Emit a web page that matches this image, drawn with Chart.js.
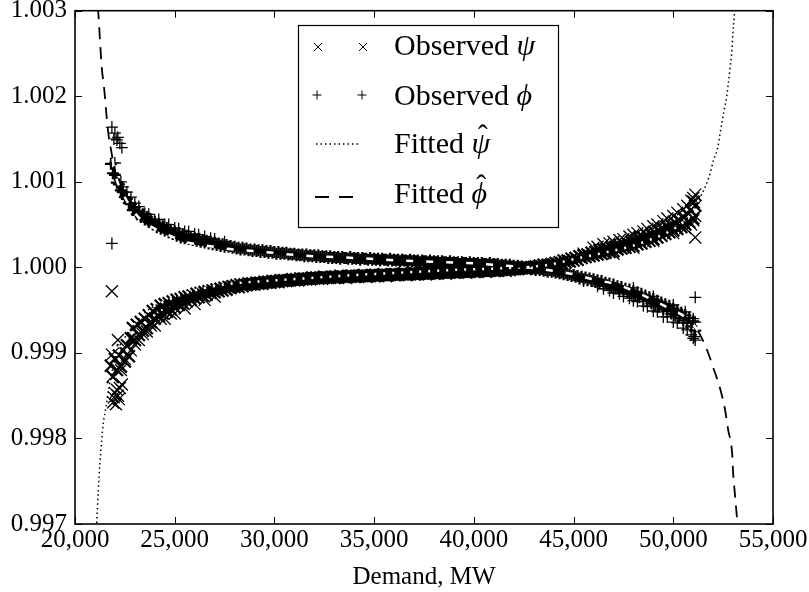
<!DOCTYPE html>
<html>
<head>
<meta charset="utf-8">
<script src="https://cdn.jsdelivr.net/npm/chart.js@4"></script>
<style>
  body { margin: 0; background: #fff; }
  #wrap { width: 809px; height: 592px; }
</style>
</head>
<body>
<div id="wrap"><canvas id="chart" width="809" height="592"></canvas></div>
<script>
const xTicks = [20000, 25000, 30000, 35000, 40000, 45000, 50000, 55000];
const yTicks = [0.997, 0.998, 0.999, 1.000, 1.001, 1.002, 1.003];

// demand levels shared by both observed series
const obsDemand = [
  21800, 21900, 22000, 22100, 22200, 22300, 22400, 22500, 22600, 22700,
  22800, 22900, 23000, 23100, 23200, 23300, 23400, 23500, 23600, 23700,
  23800, 23900, 24000, 24100, 24200, 24300, 24400, 24500, 24600, 24700,
  24800, 24900, 25000, 25100, 25200, 25300, 25400, 25500, 25600, 25700,
  25800, 25900, 26000, 26100, 26200, 26300, 26400, 26500, 26600, 26700,
  26800, 26900, 27000, 27100, 27200, 27300, 27400, 27500, 27600, 27700,
  27800, 27900, 28000, 28100, 28200, 28300, 28400, 28500, 28600, 28700,
  28800, 28900, 29000, 29100, 29200, 29300, 29400, 29500, 29600, 29700,
  29800, 29900, 30000, 30100, 30200, 30300, 30400, 30500, 30600, 30700,
  30800, 30900, 31000, 31100, 31200, 31300, 31400, 31500, 31600, 31700,
  31800, 31900, 32000, 32100, 32200, 32300, 32400, 32500, 32600, 32700,
  32800, 32900, 33000, 33100, 33200, 33300, 33400, 33500, 33600, 33700,
  33800, 33900, 34000, 34100, 34200, 34300, 34400, 34500, 34600, 34700,
  34800, 34900, 35000, 35100, 35200, 35300, 35400, 35500, 35600, 35700,
  35800, 35900, 36000, 36100, 36200, 36300, 36400, 36500, 36600, 36700,
  36800, 36900, 37000, 37100, 37200, 37300, 37400, 37500, 37600, 37700,
  37800, 37900, 38000, 38100, 38200, 38300, 38400, 38500, 38600, 38700,
  38800, 38900, 39000, 39100, 39200, 39300, 39400, 39500, 39600, 39700,
  39800, 39900, 40000, 40100, 40200, 40300, 40400, 40500, 40600, 40700,
  40800, 40900, 41000, 41100, 41200, 41300, 41400, 41500, 41600, 41700,
  41800, 41900, 42000, 42100, 42200, 42300, 42400, 42500, 42600, 42700,
  42800, 42900, 43000, 43100, 43200, 43300, 43400, 43500, 43600, 43700,
  43800, 43900, 44000, 44100, 44200, 44300, 44400, 44500, 44600, 44700,
  44800, 44900, 45000, 45100, 45200, 45300, 45400, 45500, 45600, 45700,
  45800, 45900, 46000, 46100, 46200, 46300, 46400, 46500, 46600, 46700,
  46800, 46900, 47000, 47100, 47200, 47300, 47400, 47500, 47600, 47700,
  47800, 47900, 48000, 48100, 48200, 48300, 48400, 48500, 48600, 48700,
  48800, 48900, 49000, 49100, 49200, 49300, 49400, 49500, 49600, 49700,
  49800, 49900, 50000, 50100, 50200, 50300, 50400, 50500, 50600, 50700,
  50800, 50900, 51000, 51100
];

// observed psi (x markers) at obsDemand
const psiObsValue = [
  0.99885, 0.99872, 0.99893, 0.99880, 0.99897, 0.99884, 0.99903, 0.99890, 0.99909, 0.99896,
  0.99917, 0.99929, 0.99915, 0.99933, 0.99921, 0.99936, 0.99926, 0.99940, 0.99929, 0.99944,
  0.99936, 0.99949, 0.99940, 0.99951, 0.99943, 0.99955, 0.99946, 0.99957, 0.99948, 0.99958,
  0.99951, 0.99960, 0.99953, 0.99962, 0.99956, 0.99963, 0.99958, 0.99965, 0.99960, 0.99966,
  0.99962, 0.99967, 0.99964, 0.99969, 0.99965, 0.99970, 0.99967, 0.99971, 0.99968, 0.99972,
  0.99970, 0.99973, 0.99971, 0.99974, 0.99972, 0.99975, 0.99973, 0.99976, 0.99974, 0.99977,
  0.99976, 0.99978, 0.99977, 0.99979, 0.99977, 0.99980, 0.99978, 0.99980, 0.99979, 0.99981,
  0.99980, 0.99981, 0.99980, 0.99982, 0.99981, 0.99982, 0.99981, 0.99983, 0.99982, 0.99983,
  0.99982, 0.99984, 0.99983, 0.99984, 0.99983, 0.99985, 0.99984, 0.99985, 0.99984, 0.99985,
  0.99985, 0.99986, 0.99985, 0.99986, 0.99985, 0.99987, 0.99986, 0.99987, 0.99986, 0.99987,
  0.99986, 0.99988, 0.99987, 0.99988, 0.99987, 0.99988, 0.99987, 0.99989, 0.99988, 0.99988,
  0.99988, 0.99989, 0.99988, 0.99989, 0.99988, 0.99990, 0.99989, 0.99989, 0.99988, 0.99990,
  0.99989, 0.99990, 0.99989, 0.99990, 0.99989, 0.99990, 0.99990, 0.99991, 0.99989, 0.99990,
  0.99990, 0.99991, 0.99990, 0.99991, 0.99990, 0.99991, 0.99991, 0.99992, 0.99990, 0.99991,
  0.99991, 0.99992, 0.99991, 0.99992, 0.99991, 0.99992, 0.99992, 0.99993, 0.99991, 0.99992,
  0.99992, 0.99993, 0.99992, 0.99993, 0.99992, 0.99993, 0.99993, 0.99994, 0.99992, 0.99993,
  0.99993, 0.99994, 0.99993, 0.99994, 0.99993, 0.99994, 0.99994, 0.99995, 0.99993, 0.99994,
  0.99994, 0.99995, 0.99994, 0.99995, 0.99994, 0.99995, 0.99995, 0.99996, 0.99994, 0.99995,
  0.99995, 0.99996, 0.99995, 0.99996, 0.99995, 0.99996, 0.99996, 0.99997, 0.99995, 0.99996,
  0.99996, 0.99997, 0.99996, 0.99997, 0.99996, 0.99998, 0.99997, 0.99998, 0.99996, 0.99998,
  0.99997, 0.99998, 0.99998, 0.99999, 0.99998, 0.99999, 0.99999, 1.00000, 0.99998, 1.00000,
  0.99999, 1.00000, 1.00000, 1.00001, 1.00000, 1.00002, 1.00001, 1.00003, 1.00001, 1.00003,
  1.00002, 1.00004, 1.00003, 1.00005, 1.00004, 1.00006, 1.00005, 1.00008, 1.00006, 1.00008,
  1.00007, 1.00010, 1.00008, 1.00011, 1.00009, 1.00013, 1.00011, 1.00014, 1.00012, 1.00015,
  1.00013, 1.00017, 1.00014, 1.00018, 1.00015, 1.00020, 1.00016, 1.00021, 1.00017, 1.00021,
  1.00018, 1.00023, 1.00019, 1.00024, 1.00021, 1.00026, 1.00022, 1.00027, 1.00023, 1.00028,
  1.00024, 1.00030, 1.00025, 1.00031, 1.00027, 1.00034, 1.00028, 1.00035, 1.00030, 1.00037,
  1.00031, 1.00038, 1.00033, 1.00040, 1.00035, 1.00043, 1.00037, 1.00045, 1.00039, 1.00047,
  1.00041, 1.00049, 1.00043, 1.00052, 1.00045, 1.00055, 1.00047, 1.00059, 1.00050, 1.00062,
  1.00053, 1.00066, 1.00057, 1.00072
];

// observed phi (+ markers) at obsDemand
const phiObsValue = [
  1.00121, 1.00110, 1.00108, 1.00099, 1.00097, 1.00090, 1.00088, 1.00082, 1.00080, 1.00075,
  1.00074, 1.00067, 1.00070, 1.00062, 1.00066, 1.00059, 1.00062, 1.00056, 1.00059, 1.00053,
  1.00056, 1.00050, 1.00053, 1.00047, 1.00051, 1.00045, 1.00048, 1.00043, 1.00046, 1.00041,
  1.00044, 1.00039, 1.00042, 1.00037, 1.00040, 1.00035, 1.00038, 1.00034, 1.00037, 1.00033,
  1.00035, 1.00032, 1.00034, 1.00031, 1.00033, 1.00030, 1.00032, 1.00029, 1.00031, 1.00028,
  1.00030, 1.00027, 1.00029, 1.00026, 1.00028, 1.00025, 1.00027, 1.00024, 1.00026, 1.00024,
  1.00025, 1.00023, 1.00024, 1.00022, 1.00023, 1.00021, 1.00023, 1.00021, 1.00022, 1.00020,
  1.00021, 1.00019, 1.00021, 1.00019, 1.00020, 1.00018, 1.00020, 1.00018, 1.00019, 1.00017,
  1.00019, 1.00017, 1.00018, 1.00016, 1.00018, 1.00016, 1.00017, 1.00016, 1.00017, 1.00015,
  1.00016, 1.00015, 1.00016, 1.00014, 1.00015, 1.00014, 1.00015, 1.00013, 1.00015, 1.00013,
  1.00014, 1.00013, 1.00014, 1.00012, 1.00014, 1.00012, 1.00013, 1.00012, 1.00013, 1.00011,
  1.00013, 1.00011, 1.00012, 1.00011, 1.00012, 1.00010, 1.00012, 1.00011, 1.00011, 1.00010,
  1.00012, 1.00010, 1.00011, 1.00010, 1.00011, 1.00009, 1.00011, 1.00010, 1.00010, 1.00009,
  1.00011, 1.00009, 1.00010, 1.00009, 1.00010, 1.00008, 1.00010, 1.00009, 1.00009, 1.00008,
  1.00010, 1.00008, 1.00009, 1.00008, 1.00009, 1.00007, 1.00009, 1.00008, 1.00008, 1.00007,
  1.00009, 1.00007, 1.00008, 1.00007, 1.00008, 1.00006, 1.00008, 1.00007, 1.00007, 1.00006,
  1.00008, 1.00006, 1.00007, 1.00006, 1.00007, 1.00005, 1.00007, 1.00006, 1.00006, 1.00005,
  1.00007, 1.00005, 1.00006, 1.00005, 1.00006, 1.00004, 1.00006, 1.00005, 1.00005, 1.00004,
  1.00006, 1.00004, 1.00005, 1.00004, 1.00005, 1.00003, 1.00005, 1.00004, 1.00004, 1.00003,
  1.00005, 1.00003, 1.00004, 1.00003, 1.00004, 1.00002, 1.00003, 1.00002, 1.00003, 1.00001,
  1.00003, 1.00001, 1.00002, 1.00000, 1.00002, 1.00000, 1.00001, 0.99999, 1.00000, 0.99999,
  1.00000, 0.99998, 0.99999, 0.99997, 0.99999, 0.99997, 0.99998, 0.99996, 0.99997, 0.99995,
  0.99997, 0.99995, 0.99996, 0.99994, 0.99995, 0.99993, 0.99994, 0.99992, 0.99993, 0.99991,
  0.99992, 0.99990, 0.99991, 0.99989, 0.99990, 0.99987, 0.99989, 0.99986, 0.99988, 0.99985,
  0.99987, 0.99984, 0.99986, 0.99983, 0.99985, 0.99981, 0.99984, 0.99980, 0.99982, 0.99979,
  0.99981, 0.99977, 0.99980, 0.99976, 0.99978, 0.99974, 0.99977, 0.99972, 0.99975, 0.99971,
  0.99974, 0.99969, 0.99972, 0.99967, 0.99971, 0.99965, 0.99969, 0.99963, 0.99967, 0.99961,
  0.99965, 0.99958, 0.99963, 0.99956, 0.99961, 0.99954, 0.99959, 0.99951, 0.99957, 0.99949,
  0.99955, 0.99946, 0.99952, 0.99944, 0.99950, 0.99941, 0.99947, 0.99938, 0.99944, 0.99935,
  0.99941, 0.99931, 0.99937, 0.99926
];

// scattered psi points off the main band (clusters, spikes, outliers)
const psiExtraDemand = [
  21900, 21950, 22000, 22050, 22100, 22150, 22200, 22250, 22350, 22300,
  22600, 23000, 23400, 23800, 24300, 24800, 21850, 22150, 21850, 51100,
  46000, 46500, 47000, 47500, 48000, 48500, 49000, 49500, 50000, 50500,
  50900, 51000, 51100, 51050, 50900, 51000, 51100,
  45500, 46200, 46800, 47300, 47800, 48200, 48700, 49200, 49700, 50200,
  50700, 51000, 47000, 48000, 49000, 50000, 50600,
  22500, 22800, 23200, 23600, 24000, 24500, 25000, 25500, 26000, 26500,
  27000
];
const psiExtraValue = [
  0.99842, 0.99848, 0.99853, 0.99840, 0.99857, 0.99850, 0.99846, 0.99859, 0.99863, 0.99880,
  0.99898, 0.99910, 0.99922, 0.99932, 0.99940, 0.99946, 0.99898, 0.99915, 0.99972, 1.00035,
  1.00023, 1.00027, 1.00030, 1.00033, 1.00038, 1.00042, 1.00048, 1.00054, 1.00060, 1.00068,
  1.00078, 1.00081, 1.00085, 1.00076, 1.00050, 1.00055, 1.00060,
  1.00016, 1.00024, 1.00028, 1.00032, 1.00036, 1.00040, 1.00045, 1.00050, 1.00057, 1.00064,
  1.00072, 1.00077, 1.00016, 1.00023, 1.00031, 1.00040, 1.00046,
  0.99893, 0.99903, 0.99915, 0.99925, 0.99932, 0.99940, 0.99946, 0.99952, 0.99957, 0.99962,
  0.99966
];

// scattered phi points off the main band
const phiExtraDemand = [
  21850, 22000, 22100, 22150, 22350, 21950, 22250, 22000, 22300, 22600,
  23000, 23500, 24000, 24500, 25000, 25500, 26000, 26500, 27000, 27500,
  21850, 51100, 46500, 47000, 47500, 48000, 48500, 49000, 49500, 50000,
  50500, 50900, 51000, 51100, 51000, 51100,
  45500, 46200, 46800, 47300, 47800, 48200, 48700, 49200, 49700, 50200,
  50700, 51050, 48000, 49000, 50000, 50600,
  22400, 22800, 23200, 23700, 24200, 24700, 25200, 25700, 26200, 26800
];
const phiExtraValue = [
  1.00164, 1.00157, 1.00149, 1.00152, 1.00140, 1.00150, 1.00145, 1.00122, 1.00100, 1.00088,
  1.00075, 1.00063, 1.00055, 1.00050, 1.00046, 1.00042, 1.00039, 1.00036, 1.00033, 1.00030,
  1.00028, 0.99965, 0.99975, 0.99970, 0.99966, 0.99961, 0.99955, 0.99949, 0.99942, 0.99936,
  0.99929, 0.99921, 0.99917, 0.99915, 0.99940, 0.99936,
  0.99984, 0.99978, 0.99973, 0.99969, 0.99964, 0.99960, 0.99954, 0.99948, 0.99942, 0.99935,
  0.99927, 0.99919, 0.99976, 0.99966, 0.99956, 0.99948,
  1.00094, 1.00082, 1.00071, 1.00062, 1.00056, 1.00050, 1.00045, 1.00042, 1.00038, 1.00034
];

// fitted psi-hat (dotted)
const psiFitDemand = [
  21080, 21170, 21250, 21340, 21420, 21550, 21750, 22100, 22650, 23500,
  24660, 26000, 27500, 29500, 31500, 34000, 36500, 39000, 41500, 43500,
  45300, 46500, 47800, 48800, 49800, 50500, 51000, 51350, 51600, 51850,
  52010, 52230, 52350, 52460, 52580, 52680, 52760, 52850, 52940, 52990,
  53050, 53080
];
const psiFitValue = [
  0.99696, 0.99740, 0.99771, 0.99798, 0.99818, 0.99836, 0.99866, 0.99900, 0.99923, 0.99947,
  0.99962, 0.99973, 0.99980, 0.99984, 0.99987, 0.99991, 0.99994, 0.99997, 0.99999, 1.00002,
  1.00011, 1.00017, 1.00024, 1.00032, 1.00042, 1.00053, 1.00066, 1.00082, 1.00094, 1.00110,
  1.00125, 1.00140, 1.00157, 1.00172, 1.00187, 1.00200, 1.00215, 1.00234, 1.00254, 1.00274,
  1.00292, 1.00304
];

// fitted phi-hat (dashed)
const phiFitDemand = [
  21140, 21170, 21254, 21339, 21454, 21555, 21670, 21840, 22006, 22500,
  23165, 23860, 24660, 25500, 26700, 27500, 29500, 31300, 34000, 36300,
  39700, 41000, 43000, 45200, 45800, 47300, 48700, 49800, 50700, 51200,
  51650, 52000, 52350, 52600, 52750, 52950, 53000, 53100, 53200, 53220
];
const phiFitValue = [
  1.00304, 1.00297, 1.00265, 1.00234, 1.00211, 1.00184, 1.00157, 1.00133, 1.00110, 1.00082,
  1.00059, 1.00047, 1.00038, 1.00030, 1.00025, 1.00022, 1.00018, 1.00014, 1.00011, 1.00008,
  1.00005, 1.00003, 0.99999, 0.99991, 0.99987, 0.99979, 0.99965, 0.99952, 0.99940, 0.99927,
  0.99906, 0.99883, 0.99858, 0.99833, 0.99810, 0.99783, 0.99760, 0.99732, 0.99705, 0.99698
];

const pairs = (xs, ys) => ys.map((y, i) => ({ x: xs[i], y }));

const serif = '"Liberation Serif", "Times New Roman", "DejaVu Serif", serif';

// inward ticks, frame and the legend box
const frameAndLegend = {
  id: 'frameAndLegend',
  afterDraw(chart) {
    const ctx = chart.ctx;
    const { left, right, top, bottom } = chart.chartArea;
    const xs = chart.scales.x, ys = chart.scales.y;
    ctx.save();
    ctx.strokeStyle = '#000';
    ctx.lineWidth = 1;
    ctx.beginPath();
    xTicks.forEach(v => {
      const px = Math.round(xs.getPixelForValue(v)) + 0.5;
      ctx.moveTo(px, bottom); ctx.lineTo(px, bottom - 7);
      ctx.moveTo(px, top); ctx.lineTo(px, top + 7);
    });
    yTicks.forEach(v => {
      const py = Math.round(ys.getPixelForValue(v)) + 0.5;
      ctx.moveTo(left, py); ctx.lineTo(left + 7, py);
      ctx.moveTo(right, py); ctx.lineTo(right - 7, py);
    });
    ctx.stroke();
    ctx.lineWidth = 1.6;
    ctx.strokeRect(left, top, right - left, bottom - top);

    // legend
    const lx = 298, ly = 25, lw = 260, lh = 202;
    ctx.fillStyle = '#fff';
    ctx.fillRect(lx, ly, lw, lh);
    ctx.lineWidth = 1.2;
    ctx.strokeRect(lx + 0.5, ly + 0.5, lw, lh);

    ctx.lineWidth = 1;
    ctx.beginPath();
    [318, 363].forEach(cx => {
      const cy = 47, r = 4;
      ctx.moveTo(cx - r, cy - r); ctx.lineTo(cx + r, cy + r);
      ctx.moveTo(cx + r, cy - r); ctx.lineTo(cx - r, cy + r);
    });
    [317, 362].forEach(cx => {
      const cy = 95, r = 4.5;
      ctx.moveTo(cx - r, cy); ctx.lineTo(cx + r, cy);
      ctx.moveTo(cx, cy - r); ctx.lineTo(cx, cy + r);
    });
    ctx.stroke();

    ctx.lineWidth = 1.5;
    ctx.setLineDash([1.5, 3]);
    ctx.beginPath(); ctx.moveTo(316, 144); ctx.lineTo(359, 144); ctx.stroke();
    ctx.lineWidth = 1.8;
    ctx.setLineDash([14, 10]);
    ctx.beginPath(); ctx.moveTo(315, 197); ctx.lineTo(363, 197); ctx.stroke();
    ctx.setLineDash([]);

    ctx.fillStyle = '#000';
    ctx.textBaseline = 'alphabetic';
    ctx.textAlign = 'left';
    const labels = ['Observed ', 'Observed ', 'Fitted ', 'Fitted '];
    const symbols = ['\u03C8', '\u03D5', '\u03C8', '\u03D5'];
    const baselines = [55, 105, 153, 203];
    labels.forEach((t, i) => {
      ctx.font = '30px ' + serif;
      const tx = 394;
      ctx.fillText(t, tx, baselines[i]);
      const sx = tx + ctx.measureText(t).width;
      ctx.font = 'italic 30px ' + serif;
      ctx.fillText(symbols[i], sx, baselines[i]);
      if (i >= 2) {
        const sw = ctx.measureText(symbols[i]).width;
        ctx.font = '30px ' + serif;
        ctx.textAlign = 'center';
        ctx.fillText('\u02C6', sx + sw / 2 + 2, baselines[i] - 8);
        ctx.textAlign = 'left';
      }
    });
    ctx.restore();
  }
};

const fitLine = (xs, ys, color, width, dash, offset) => ({
  data: pairs(xs, ys),
  showLine: true,
  borderColor: color,
  borderWidth: width,
  borderDash: dash,
  borderDashOffset: offset,
  pointRadius: 0,
  cubicInterpolationMode: 'monotone'
});

const marks = (label, data, style, radius, width) => ({
  label,
  data,
  pointStyle: style,
  pointRadius: radius,
  pointBorderWidth: width,
  pointBorderColor: '#000',
  pointBackgroundColor: 'rgba(0,0,0,0)'
});

new Chart(document.getElementById('chart'), {
  type: 'scatter',
  data: {
    datasets: [
      fitLine(psiFitDemand, psiFitValue, '#000', 1.5, [1.5, 3], 0),
      fitLine(phiFitDemand, phiFitValue, '#000', 1.8, [12, 8], 0),
      fitLine(psiFitDemand, psiFitValue, '#fff', 2.5, [2, 7], -2),
      fitLine(phiFitDemand, phiFitValue, '#fff', 2.5, [7, 13], -12.5),
      marks('Observed psi', pairs(obsDemand, psiObsValue), 'crossRot', 8.5, 2.2),
      marks('Observed phi', pairs(obsDemand, phiObsValue), 'cross', 6, 2.2),
      marks('Observed psi, scattered', pairs(psiExtraDemand, psiExtraValue), 'crossRot', 8.5, 1.3),
      marks('Observed phi, scattered', pairs(phiExtraDemand, phiExtraValue), 'cross', 6, 1.3)
    ]
  },
  options: {
    responsive: false,
    animation: false,
    layout: { padding: { top: 10, right: 36, left: 0, bottom: 0 } },
    plugins: { legend: { display: false }, tooltip: { enabled: false } },
    scales: {
      x: {
        type: 'linear',
        min: 20000,
        max: 55000,
        afterBuildTicks: s => { s.ticks = xTicks.map(v => ({ value: v })); },
        afterFit: s => { s.height = 68; s.paddingLeft = 0; s.paddingRight = 0; },
        grid: { display: false, drawTicks: false },
        border: { display: false },
        ticks: {
          padding: 1,
          color: '#000',
          autoSkip: false,
          maxRotation: 0,
          font: { family: serif, size: 25 },
          callback: v => Number(v).toLocaleString('en-US')
        },
        title: {
          display: true,
          text: 'Demand, MW',
          color: '#000',
          font: { family: serif, size: 25 },
          padding: 0
        }
      },
      y: {
        type: 'linear',
        min: 0.997,
        max: 1.003,
        afterBuildTicks: s => { s.ticks = yTicks.map(v => ({ value: v })); },
        afterFit: s => { s.width = 75; s.paddingTop = 0; s.paddingBottom = 0; },
        grid: { display: false, drawTicks: false },
        border: { display: false },
        ticks: {
          padding: 8,
          color: '#000',
          autoSkip: false,
          font: { family: serif, size: 25 },
          callback: v => Number(v).toFixed(3)
        }
      }
    }
  },
  plugins: [frameAndLegend]
});
</script>
</body>
</html>
